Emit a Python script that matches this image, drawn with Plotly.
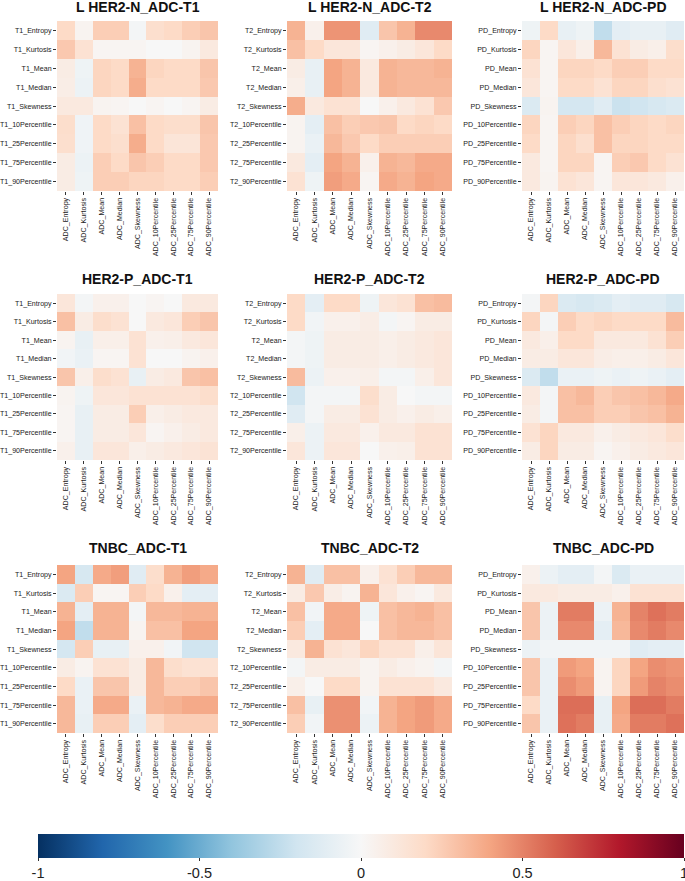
import plotly.graph_objects as go

# Labels
adc_labels = ['ADC_Entropy', 'ADC_Kurtosis', 'ADC_Mean', 'ADC_Median', 'ADC_Skewness',
              'ADC_10Percentile', 'ADC_25Percentile', 'ADC_75Percentile', 'ADC_90Percentile']
feat_names = ['Entropy', 'Kurtosis', 'Mean', 'Median', 'Skewness',
              '10Percentile', '25Percentile', '75Percentile', '90Percentile']
t1_labels = ['T1_' + f for f in feat_names]
t2_labels = ['T2_' + f for f in feat_names]
pd_labels = ['PD_' + f for f in feat_names]

titles = ['L HER2-N_ADC-T1', 'L HER2-N_ADC-T2', 'L HER2-N_ADC-PD',
          'HER2-P_ADC-T1', 'HER2-P_ADC-T2', 'HER2-P_ADC-PD',
          'TNBC_ADC-T1', 'TNBC_ADC-T2', 'TNBC_ADC-PD']

# colorbar ticks
cbar_vals = [-1, -0.5, 0, 0.5, 1]
cbar_text = ['-1', '-0.5', '0', '0.5', '1']

# correlation matrices (rows = T1/T2/PD features, cols = ADC features)
lher2n_t1 = [
    [0.20, 0.03, 0.25, 0.25, -0.02, 0.17, 0.20, 0.25, 0.28],
    [0.27, 0.15, 0.02, 0.02, 0.02, 0.00, 0.00, 0.03, 0.10],
    [0.08, -0.05, 0.22, 0.20, 0.35, 0.22, 0.20, 0.20, 0.28],
    [0.07, -0.06, 0.22, 0.20, 0.37, 0.20, 0.20, 0.20, 0.27],
    [0.10, 0.10, 0.03, 0.02, 0.00, 0.02, 0.00, 0.02, 0.08],
    [0.18, -0.04, 0.20, 0.15, 0.30, 0.20, 0.18, 0.18, 0.28],
    [0.17, -0.04, 0.20, 0.17, 0.37, 0.20, 0.13, 0.13, 0.27],
    [0.08, -0.06, 0.25, 0.20, 0.28, 0.25, 0.20, 0.20, 0.27],
    [0.08, -0.05, 0.25, 0.25, 0.22, 0.22, 0.20, 0.20, 0.25],
]
lher2n_t2 = [
    [0.35, 0.05, 0.45, 0.45, -0.12, 0.28, 0.35, 0.48, 0.48],
    [0.30, 0.20, 0.12, 0.12, 0.02, 0.05, 0.08, 0.12, 0.20],
    [0.08, -0.08, 0.40, 0.35, 0.10, 0.35, 0.33, 0.33, 0.35],
    [0.06, -0.08, 0.40, 0.35, 0.10, 0.35, 0.33, 0.33, 0.33],
    [0.37, 0.10, 0.15, 0.15, 0.00, 0.05, 0.10, 0.15, 0.27],
    [0.03, -0.10, 0.30, 0.25, 0.27, 0.28, 0.20, 0.22, 0.20],
    [0.03, -0.07, 0.33, 0.27, 0.20, 0.25, 0.25, 0.25, 0.25],
    [0.10, -0.10, 0.40, 0.35, 0.05, 0.35, 0.33, 0.38, 0.38],
    [0.15, -0.05, 0.42, 0.38, 0.02, 0.38, 0.35, 0.40, 0.38],
]
lher2n_pd = [
    [-0.05, 0.20, -0.08, -0.05, -0.25, -0.10, -0.08, -0.08, -0.12],
    [0.22, 0.02, 0.12, 0.06, 0.33, 0.15, 0.08, 0.06, 0.18],
    [0.15, 0.02, 0.22, 0.22, 0.20, 0.25, 0.25, 0.20, 0.20],
    [0.12, 0.02, 0.20, 0.20, 0.15, 0.22, 0.22, 0.17, 0.15],
    [-0.15, 0.03, -0.18, -0.18, -0.12, -0.22, -0.20, -0.17, -0.15],
    [0.22, 0.02, 0.25, 0.22, 0.30, 0.25, 0.22, 0.20, 0.22],
    [0.20, 0.02, 0.22, 0.17, 0.30, 0.22, 0.22, 0.20, 0.20],
    [0.10, 0.02, 0.22, 0.22, 0.02, 0.25, 0.27, 0.20, 0.15],
    [0.10, 0.03, 0.15, 0.12, 0.02, 0.12, 0.12, 0.10, 0.05],
]
her2p_t1 = [
    [0.12, -0.02, 0.05, 0.05, 0.00, 0.02, 0.00, 0.10, 0.10],
    [0.30, 0.08, 0.18, 0.15, 0.00, 0.10, 0.12, 0.25, 0.28],
    [0.03, -0.08, 0.06, 0.06, 0.15, 0.05, 0.06, 0.10, 0.12],
    [-0.03, -0.07, 0.02, 0.02, 0.15, 0.00, 0.00, 0.03, 0.05],
    [0.28, 0.06, 0.18, 0.15, -0.08, 0.08, 0.10, 0.28, 0.30],
    [0.03, -0.05, 0.12, 0.12, 0.15, 0.15, 0.15, 0.15, 0.18],
    [0.02, -0.08, 0.08, 0.08, 0.25, 0.06, 0.08, 0.10, 0.10],
    [0.02, -0.08, 0.08, 0.08, 0.12, 0.02, 0.05, 0.08, 0.10],
    [0.05, -0.08, 0.12, 0.12, 0.06, 0.08, 0.10, 0.12, 0.14],
]
her2p_t2 = [
    [0.20, -0.10, 0.20, 0.20, -0.05, 0.12, 0.15, 0.30, 0.32],
    [0.20, -0.03, 0.05, 0.05, 0.07, -0.02, 0.02, 0.08, 0.08],
    [-0.02, -0.05, 0.08, 0.08, 0.08, 0.06, 0.08, 0.10, 0.12],
    [-0.02, -0.05, 0.08, 0.08, 0.08, 0.06, 0.08, 0.10, 0.12],
    [0.32, -0.06, 0.05, 0.05, 0.06, -0.02, -0.02, 0.06, 0.12],
    [-0.20, -0.02, -0.02, -0.02, 0.18, 0.08, 0.00, -0.02, -0.02],
    [-0.12, -0.02, 0.08, 0.08, 0.15, 0.08, 0.05, 0.08, 0.06],
    [0.06, -0.06, 0.10, 0.10, 0.05, 0.10, 0.10, 0.15, 0.15],
    [0.12, -0.06, 0.12, 0.12, 0.00, 0.05, 0.06, 0.15, 0.15],
]
her2p_pd = [
    [-0.02, 0.22, -0.15, -0.17, -0.15, -0.10, -0.12, -0.12, -0.17],
    [0.22, -0.02, 0.25, 0.20, 0.22, 0.20, 0.20, 0.20, 0.32],
    [0.10, 0.06, 0.20, 0.20, 0.10, 0.10, 0.10, 0.15, 0.25],
    [0.08, 0.08, 0.12, 0.12, 0.07, 0.06, 0.06, 0.08, 0.12],
    [-0.15, -0.25, -0.07, -0.07, -0.05, -0.07, -0.05, -0.07, -0.10],
    [0.10, -0.02, 0.30, 0.33, 0.25, 0.28, 0.30, 0.33, 0.38],
    [0.08, -0.02, 0.30, 0.30, 0.25, 0.25, 0.28, 0.30, 0.35],
    [0.15, 0.22, 0.10, 0.10, 0.05, 0.08, 0.10, 0.12, 0.18],
    [0.08, 0.22, 0.08, 0.08, 0.02, 0.05, 0.08, 0.10, 0.12],
]
tnbc_t1 = [
    [0.40, -0.17, 0.38, 0.42, -0.12, 0.18, 0.35, 0.42, 0.38],
    [-0.15, 0.25, 0.02, 0.02, 0.25, 0.20, 0.05, -0.10, -0.10],
    [0.35, -0.10, 0.35, 0.35, -0.02, 0.33, 0.33, 0.35, 0.35],
    [0.40, -0.25, 0.35, 0.35, 0.03, 0.30, 0.30, 0.40, 0.40],
    [-0.18, 0.25, -0.08, -0.08, 0.05, 0.05, -0.03, -0.20, -0.20],
    [0.08, 0.03, 0.15, 0.15, 0.08, 0.33, 0.18, 0.15, 0.15],
    [0.20, -0.07, 0.28, 0.28, 0.08, 0.33, 0.25, 0.25, 0.28],
    [0.33, -0.07, 0.38, 0.38, -0.07, 0.33, 0.35, 0.38, 0.38],
    [0.33, -0.08, 0.25, 0.25, -0.10, 0.18, 0.25, 0.25, 0.25],
]
tnbc_t2 = [
    [0.35, -0.12, 0.30, 0.30, 0.05, 0.15, 0.25, 0.33, 0.33],
    [0.08, 0.27, 0.07, 0.03, 0.35, 0.12, 0.05, 0.02, 0.10],
    [0.30, -0.03, 0.38, 0.38, -0.05, 0.30, 0.33, 0.35, 0.30],
    [0.25, -0.10, 0.38, 0.38, 0.00, 0.30, 0.33, 0.33, 0.30],
    [0.10, 0.35, 0.15, 0.12, 0.22, 0.15, 0.15, 0.06, 0.13],
    [-0.02, 0.08, 0.08, 0.08, 0.03, 0.08, 0.05, 0.03, -0.02],
    [0.06, 0.00, 0.20, 0.20, 0.03, 0.15, 0.15, 0.15, 0.10],
    [0.30, -0.08, 0.46, 0.46, -0.03, 0.35, 0.40, 0.43, 0.38],
    [0.25, -0.03, 0.46, 0.46, -0.06, 0.35, 0.40, 0.43, 0.38],
]
tnbc_pd = [
    [0.05, -0.06, -0.10, -0.10, -0.02, -0.15, -0.07, -0.07, -0.07],
    [0.10, 0.10, 0.08, 0.08, 0.08, 0.05, 0.15, 0.15, 0.15],
    [0.28, -0.06, 0.52, 0.52, -0.06, 0.35, 0.50, 0.55, 0.52],
    [0.28, -0.06, 0.48, 0.48, -0.10, 0.33, 0.48, 0.52, 0.48],
    [-0.06, -0.03, -0.03, -0.03, -0.03, -0.03, -0.12, -0.10, -0.10],
    [0.28, -0.07, 0.43, 0.40, 0.03, 0.22, 0.40, 0.47, 0.45],
    [0.28, -0.07, 0.47, 0.43, 0.03, 0.22, 0.43, 0.50, 0.47],
    [0.20, -0.07, 0.56, 0.56, -0.08, 0.40, 0.56, 0.56, 0.52],
    [0.28, -0.07, 0.55, 0.52, -0.08, 0.38, 0.52, 0.52, 0.55],
]

matrices = [lher2n_t1, lher2n_t2, lher2n_pd,
            her2p_t1, her2p_t2, her2p_pd,
            tnbc_t1, tnbc_t2, tnbc_pd]
row_labels = [t1_labels, t2_labels, pd_labels] * 3

# RdBu_r (ColorBrewer 11)
rdbu_r = ['rgb(5,48,97)', 'rgb(33,102,172)', 'rgb(67,147,195)', 'rgb(146,197,222)',
          'rgb(209,229,240)', 'rgb(247,247,247)', 'rgb(253,219,199)', 'rgb(244,165,130)',
          'rgb(214,96,77)', 'rgb(178,24,43)', 'rgb(103,0,31)']
colorscale = [[i / 10, c] for i, c in enumerate(rdbu_r)]

W, H = 685, 881
col_px = [(57, 218), (287, 452), (522, 684)]
row_px = [(21, 191), (294, 460), (565, 733)]
title_y = [7, 279, 548]
font_fam = 'Arial, Liberation Sans, sans-serif'

fig = go.Figure()
annotations = []
for k in range(9):
    r, c = divmod(k, 3)
    sfx = '' if k == 0 else str(k + 1)
    fig.add_trace(go.Heatmap(
        z=matrices[k], x=adc_labels, y=row_labels[k],
        coloraxis='coloraxis', xaxis='x' + sfx, yaxis='y' + sfx))
    x0, x1 = col_px[c]
    y0, y1 = row_px[r]
    axis_style = dict(showgrid=False, zeroline=False, showline=False,
                      ticks='outside', ticklen=3, tickwidth=1, tickcolor='#333',
                      tickfont=dict(size=7.1, color='#222', family=font_fam))
    fig.layout['xaxis' + sfx] = dict(domain=[x0 / W, x1 / W], anchor='y' + sfx,
                                     tickangle=-90, **axis_style)
    fig.layout['yaxis' + sfx] = dict(domain=[1 - y1 / H, 1 - y0 / H], anchor='x' + sfx,
                                     autorange='reversed', **axis_style)
    annotations.append(dict(
        text='<b>' + titles[k] + '</b>', xref='paper', yref='paper',
        x=(x0 + x1) / 2 / W, y=1 - title_y[r] / H, xanchor='center', yanchor='middle',
        showarrow=False, font=dict(size=14, color='#111', family=font_fam)))

fig.update_layout(
    width=W, height=H,
    margin=dict(l=0, r=0, t=0, b=0, autoexpand=False),
    paper_bgcolor='white', plot_bgcolor='white',
    annotations=annotations,
    showlegend=False,
    coloraxis=dict(
        colorscale=colorscale, cmin=-1, cmax=1,
        colorbar=dict(
            orientation='h', lenmode='pixels', len=684 - 38,
            x=38 / W, xanchor='left', xpad=0, ypad=0,
            y=1 - 834 / H, yanchor='top', yref='paper',
            thickness=24, outlinewidth=0,
            ticks='outside', ticklen=3, tickcolor='#333',
            tickvals=cbar_vals, ticktext=cbar_text,
            ticklabeloverflow='allow',
            tickfont=dict(size=14.5, color='#222', family=font_fam))))

# drop the default page margin so the figure sits at the window's top-left corner
fig.write_html("out.html", config={'displayModeBar': False},
               post_script="document.body.style.margin = '0';")
